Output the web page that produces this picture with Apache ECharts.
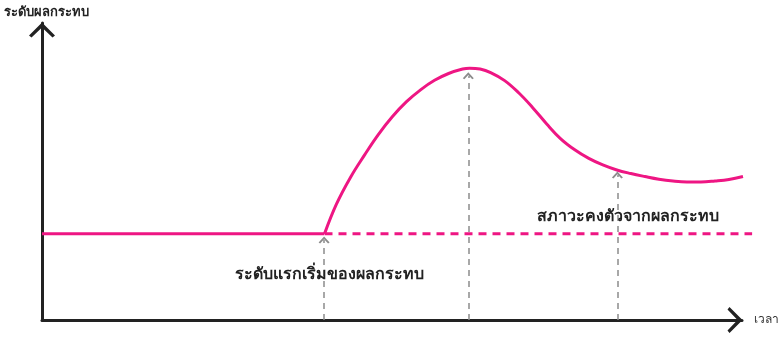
<!DOCTYPE html>
<html>
<head>
<meta charset="utf-8">
<script src="https://cdn.jsdelivr.net/npm/echarts@6/dist/echarts.min.js"></script>
<style>
  html, body { margin: 0; padding: 0; background: #fff; }
  #chart { width: 782px; height: 337px; }
</style>
</head>
<body>
<div id="chart"></div>
<script>
// ระดับผลกระทบ ตามเวลา (หน่วยสมมติ 0-100)
var flatLine = [[0, 29], [40.3, 29]];
var impactCurve = [
  [40.3, 29], [42, 39], [44, 48], [46, 55.5], [48, 62.5], [50, 68.5],
  [52, 73.5], [54, 77.5], [56, 80.7], [58, 83], [60, 84.5], [61, 84.8],
  [62.5, 84.5], [64, 83.3], [66, 80.6], [68, 76.5], [70, 71.5], [72, 66],
  [74, 61], [76, 57.3], [78, 54.4], [80, 52.2], [82, 50.5], [84, 49.3],
  [86, 48.3], [88, 47.4], [90, 46.8], [92, 46.5], [94, 46.5], [96, 46.8],
  [98, 47.3], [100, 48.3]
];
var steadyLine = [[40.3, 29], [101.3, 29]];
// เส้นชี้ (x, ค่าปลายลูกศร)
var pointerX = [40.3, 60.9, 82.2];
var pointerTop = [26.9, 82.2, 48.8];
var labelTexts = ["ระดับแรกเริ่มของผลกระทบ", "สภาวะคงตัวจากผลกระทบ"];
var labelPos = [[41.0, 15.2], [83.6, 35.0]];

var pink = "#ee1683";
var chevron = "path://M0,13 L13,0 L26,13 L23.5,15 L13,5 L2.5,15 Z";
var smallChevron = "path://M0,6 L5,0 L10,6 L8.6,7 L5,2.6 L1.4,7 Z";
var font = "'Noto Sans', 'DejaVu Sans', sans-serif";

// แกนซ่อนที่สองใช้มาตราส่วนเดียวกัน แต่ยาวเลยหัวลูกศรแกนเวลา
var pxPerUnit = 701 / 100;
var wideMax = 104;
var wideRight = 782 - 42 - wideMax * pxPerUnit;

var chart = echarts.init(document.getElementById("chart"));

var opt = {
  animation: false,
  grid: [
    { left: 42, right: 39, top: 23, bottom: 17 },
    { left: 42, right: wideRight, top: 23, bottom: 17 }
  ],
  xAxis: [
    {
      type: "value",
      gridIndex: 0,
      min: 0,
      max: 100,
      name: "เวลา",
      nameLocation: "end",
      nameGap: 12,
      nameTextStyle: { color: "#333", fontSize: 12, fontFamily: font },
      axisLine: {
        lineStyle: { color: "#222", width: 3 },
        symbol: ["none", chevron],
        symbolSize: [26, 15],
        symbolOffset: [0, -7]
      },
      axisTick: { show: false },
      axisLabel: { show: false },
      splitLine: { show: false }
    },
    {
      type: "value",
      gridIndex: 1,
      min: 0,
      max: wideMax,
      show: false
    }
  ],
  yAxis: [
    {
      type: "value",
      gridIndex: 0,
      min: 0,
      max: 100,
      name: "ระดับผลกระทบ",
      nameLocation: "end",
      nameGap: 4,
      nameTextStyle: { color: "#222", fontSize: 13, fontFamily: font, fontWeight: "bold", padding: [0, 0, 0, 8] },
      axisLine: {
        lineStyle: { color: "#222", width: 3 },
        symbol: ["none", chevron],
        symbolSize: [26, 15],
        symbolOffset: [0, -7]
      },
      axisTick: { show: false },
      axisLabel: { show: false },
      splitLine: { show: false }
    },
    {
      type: "value",
      gridIndex: 1,
      min: 0,
      max: 100,
      show: false
    }
  ],
  series: [
    {
      type: "line",
      data: [],
      silent: true,
      markLine: {
        silent: true,
        symbol: ["none", smallChevron],
        symbolSize: [11, 7],
        label: { show: false },
        lineStyle: { color: "#8c8c8c", width: 1.5, type: [6, 5] },
        data: pointerX.map(function (x, i) {
          return [{ coord: [x, 0] }, { coord: [x, pointerTop[i]] }];
        })
      }
    },
    {
      type: "line",
      xAxisIndex: 1,
      yAxisIndex: 1,
      data: steadyLine,
      showSymbol: false,
      lineStyle: { color: pink, width: 3, type: [8, 6] },
      markPoint: {
        symbol: "circle",
        symbolSize: 1,
        itemStyle: { color: "rgba(0,0,0,0)" },
        label: {
          show: true,
          position: "inside",
          color: "#222",
          fontSize: 16,
          fontWeight: "bold",
          fontFamily: font,
          formatter: function (p) { return p.name; }
        },
        data: labelTexts.map(function (t, i) {
          return { name: t, coord: labelPos[i] };
        })
      }
    },
    {
      type: "line",
      data: flatLine,
      showSymbol: false,
      lineStyle: { color: pink, width: 3 }
    },
    {
      type: "line",
      xAxisIndex: 1,
      yAxisIndex: 1,
      data: impactCurve,
      smooth: 0.4,
      showSymbol: false,
      lineStyle: { color: pink, width: 3 }
    }
  ]
};
chart.setOption(opt);
</script>
</body>
</html>
